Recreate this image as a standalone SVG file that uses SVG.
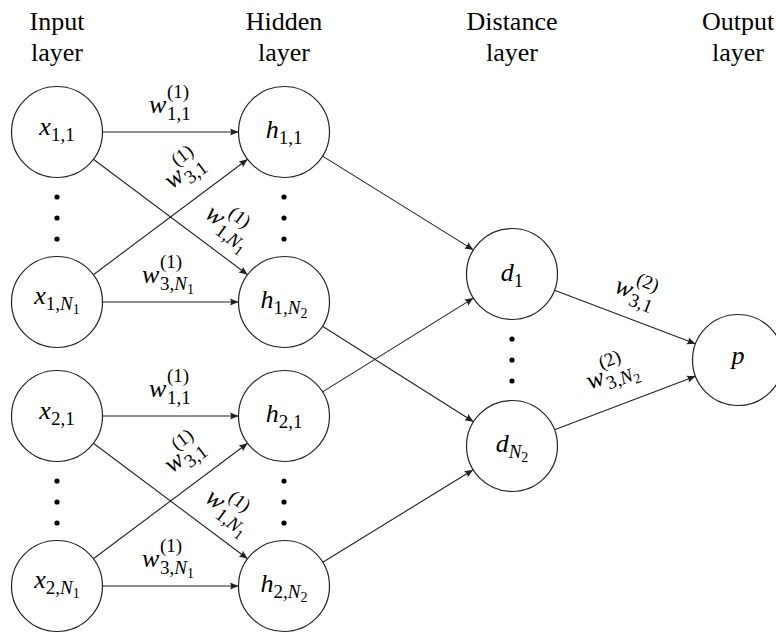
<svg xmlns="http://www.w3.org/2000/svg" width="776" height="633" viewBox="0 0 776 633" font-family="Liberation Serif, Times New Roman, serif">
  <style>
    .node { fill: #fff; stroke: #222; stroke-width: 1.2; }
    .edge { fill: none; stroke: #222; stroke-width: 1.1; marker-end: url(#arrow); }
    .dot { fill: #000; }
  </style>
  <defs>
    <marker id="arrow" markerUnits="userSpaceOnUse" markerWidth="12" markerHeight="10" viewBox="-10 -5 12 10" refX="0" refY="0" orient="auto">
      <path d="M0,0 L-8.5,-3.6 Q-6.5,0 -8.5,3.6 Z" fill="#222"/>
    </marker>
  </defs>
  <rect width="776" height="633" fill="#fff"/>

  <!-- layer headings -->
  <g id="headings" font-size="26" text-anchor="middle" font-family="Times New Roman, Liberation Serif, serif">
    <text x="57" y="30" font-family="Times New Roman, Liberation Serif, serif">Input</text>
    <text x="57" y="61" font-family="Times New Roman, Liberation Serif, serif">layer</text>
    <text x="284" y="30" font-family="Times New Roman, Liberation Serif, serif">Hidden</text>
    <text x="284" y="61" font-family="Times New Roman, Liberation Serif, serif">layer</text>
    <text x="512" y="30" font-family="Times New Roman, Liberation Serif, serif">Distance</text>
    <text x="512" y="61" font-family="Times New Roman, Liberation Serif, serif">layer</text>
    <text x="738" y="30" font-family="Times New Roman, Liberation Serif, serif">Output</text>
    <text x="738" y="61" font-family="Times New Roman, Liberation Serif, serif">layer</text>
  </g>

  <!-- connectors -->
  <g id="edges">
    <line class="edge" x1="102.5" y1="132" x2="238.5" y2="132"/>
    <line class="edge" x1="102.5" y1="302" x2="238.5" y2="302"/>
    <line class="edge" x1="93.4" y1="159.3" x2="247.6" y2="274.7"/>
    <line class="edge" x1="93.4" y1="274.7" x2="247.6" y2="159.3"/>
    <line class="edge" x1="102.5" y1="416" x2="238.5" y2="416"/>
    <line class="edge" x1="102.5" y1="586" x2="238.5" y2="586"/>
    <line class="edge" x1="93.4" y1="443.3" x2="247.6" y2="558.7"/>
    <line class="edge" x1="93.4" y1="558.7" x2="247.6" y2="443.3"/>
    <line class="edge" x1="322.6" y1="156.1" x2="473.4" y2="249.9"/>
    <line class="edge" x1="322.5" y1="326.3" x2="473.5" y2="421.7"/>
    <line class="edge" x1="322.6" y1="391.9" x2="473.4" y2="298.1"/>
    <line class="edge" x1="322.8" y1="562.2" x2="473.2" y2="469.8"/>
    <line class="edge" x1="554.5" y1="290.2" x2="695.5" y2="343.8"/>
    <line class="edge" x1="554.5" y1="429.8" x2="695.5" y2="376.2"/>
  </g>

  <!-- connector weights -->
  <g id="edge-labels" font-size="19" font-family="Times New Roman, Liberation Serif, serif">
    <g transform="translate(170,104)">
      <text x="-21" y="9" font-size="26" font-style="italic" font-family="Times New Roman, Liberation Serif, serif">w</text>
      <text x="-3" y="16" font-family="Times New Roman, Liberation Serif, serif">1,1</text>
      <text x="-3" y="-6" font-family="Times New Roman, Liberation Serif, serif">(1)</text>
    </g>
    <g transform="translate(183,170) rotate(-37)">
      <text x="-21" y="9" font-size="26" font-style="italic" font-family="Times New Roman, Liberation Serif, serif">w</text>
      <text x="-3" y="16" font-family="Times New Roman, Liberation Serif, serif">3,1</text>
      <text x="-3" y="-6" font-family="Times New Roman, Liberation Serif, serif">(1)</text>
    </g>
    <g transform="translate(230,225) rotate(37)">
      <text x="-26" y="9" font-size="26" font-style="italic" font-family="Times New Roman, Liberation Serif, serif">w</text>
      <text x="-8" y="16" font-family="Times New Roman, Liberation Serif, serif">1,<tspan font-style="italic">N</tspan><tspan font-size="14" dy="4">1</tspan></text>
      <text x="-8" y="-6" font-family="Times New Roman, Liberation Serif, serif">(1)</text>
    </g>
    <g transform="translate(168,274)">
      <text x="-26" y="9" font-size="26" font-style="italic" font-family="Times New Roman, Liberation Serif, serif">w</text>
      <text x="-8" y="16" font-family="Times New Roman, Liberation Serif, serif">3,<tspan font-style="italic">N</tspan><tspan font-size="14" dy="4">1</tspan></text>
      <text x="-8" y="-6" font-family="Times New Roman, Liberation Serif, serif">(1)</text>
    </g>
    <g transform="translate(170,388)">
      <text x="-21" y="9" font-size="26" font-style="italic" font-family="Times New Roman, Liberation Serif, serif">w</text>
      <text x="-3" y="16" font-family="Times New Roman, Liberation Serif, serif">1,1</text>
      <text x="-3" y="-6" font-family="Times New Roman, Liberation Serif, serif">(1)</text>
    </g>
    <g transform="translate(183,454) rotate(-37)">
      <text x="-21" y="9" font-size="26" font-style="italic" font-family="Times New Roman, Liberation Serif, serif">w</text>
      <text x="-3" y="16" font-family="Times New Roman, Liberation Serif, serif">3,1</text>
      <text x="-3" y="-6" font-family="Times New Roman, Liberation Serif, serif">(1)</text>
    </g>
    <g transform="translate(230,509) rotate(37)">
      <text x="-26" y="9" font-size="26" font-style="italic" font-family="Times New Roman, Liberation Serif, serif">w</text>
      <text x="-8" y="16" font-family="Times New Roman, Liberation Serif, serif">1,<tspan font-style="italic">N</tspan><tspan font-size="14" dy="4">1</tspan></text>
      <text x="-8" y="-6" font-family="Times New Roman, Liberation Serif, serif">(1)</text>
    </g>
    <g transform="translate(168,558)">
      <text x="-26" y="9" font-size="26" font-style="italic" font-family="Times New Roman, Liberation Serif, serif">w</text>
      <text x="-8" y="16" font-family="Times New Roman, Liberation Serif, serif">3,<tspan font-style="italic">N</tspan><tspan font-size="14" dy="4">1</tspan></text>
      <text x="-8" y="-6" font-family="Times New Roman, Liberation Serif, serif">(1)</text>
    </g>
    <g transform="translate(636,291) rotate(21)">
      <text x="-21" y="9" font-size="26" font-style="italic" font-family="Times New Roman, Liberation Serif, serif">w</text>
      <text x="-3" y="16" font-family="Times New Roman, Liberation Serif, serif">3,1</text>
      <text x="-3" y="-6" font-family="Times New Roman, Liberation Serif, serif">(2)</text>
    </g>
    <g transform="translate(611,372) rotate(-21)">
      <text x="-26" y="9" font-size="26" font-style="italic" font-family="Times New Roman, Liberation Serif, serif">w</text>
      <text x="-8" y="16" font-family="Times New Roman, Liberation Serif, serif">3,<tspan font-style="italic">N</tspan><tspan font-size="14" dy="4">2</tspan></text>
      <text x="-8" y="-6" font-family="Times New Roman, Liberation Serif, serif">(2)</text>
    </g>
  </g>

  <!-- node symbols: italic letter, upright index, italic N with its own small index -->
  <g id="nodes" font-size="26" text-anchor="middle" font-family="Times New Roman, Liberation Serif, serif">
    <g id="node-x11">
      <circle class="node" cx="57" cy="132" r="45.5"/>
      <text x="57" y="135" font-family="Times New Roman, Liberation Serif, serif"><tspan font-style="italic">x</tspan><tspan font-size="19" dy="6">1,1</tspan></text>
    </g>
    <g id="node-x1N1">
      <circle class="node" cx="57" cy="302" r="45.5"/>
      <text x="57" y="304" font-family="Times New Roman, Liberation Serif, serif"><tspan font-style="italic">x</tspan><tspan font-size="19" dy="6">1,</tspan><tspan font-size="19" font-style="italic">N</tspan><tspan font-size="14" dy="4">1</tspan></text>
    </g>
    <g id="node-x21">
      <circle class="node" cx="57" cy="416" r="45.5"/>
      <text x="57" y="419" font-family="Times New Roman, Liberation Serif, serif"><tspan font-style="italic">x</tspan><tspan font-size="19" dy="6">2,1</tspan></text>
    </g>
    <g id="node-x2N1">
      <circle class="node" cx="57" cy="586" r="45.5"/>
      <text x="57" y="588" font-family="Times New Roman, Liberation Serif, serif"><tspan font-style="italic">x</tspan><tspan font-size="19" dy="6">2,</tspan><tspan font-size="19" font-style="italic">N</tspan><tspan font-size="14" dy="4">1</tspan></text>
    </g>
    <g id="node-h11">
      <circle class="node" cx="284" cy="132" r="45.5"/>
      <text x="284" y="138" font-family="Times New Roman, Liberation Serif, serif"><tspan font-style="italic">h</tspan><tspan font-size="19" dy="6">1,1</tspan></text>
    </g>
    <g id="node-h1N2">
      <circle class="node" cx="284" cy="302" r="45.5"/>
      <text x="284" y="308" font-family="Times New Roman, Liberation Serif, serif"><tspan font-style="italic">h</tspan><tspan font-size="19" dy="6">1,</tspan><tspan font-size="19" font-style="italic">N</tspan><tspan font-size="14" dy="4">2</tspan></text>
    </g>
    <g id="node-h21">
      <circle class="node" cx="284" cy="416" r="45.5"/>
      <text x="284" y="422" font-family="Times New Roman, Liberation Serif, serif"><tspan font-style="italic">h</tspan><tspan font-size="19" dy="6">2,1</tspan></text>
    </g>
    <g id="node-h2N2">
      <circle class="node" cx="284" cy="586" r="45.5"/>
      <text x="284" y="592" font-family="Times New Roman, Liberation Serif, serif"><tspan font-style="italic">h</tspan><tspan font-size="19" dy="6">2,</tspan><tspan font-size="19" font-style="italic">N</tspan><tspan font-size="14" dy="4">2</tspan></text>
    </g>
    <g id="node-d1">
      <circle class="node" cx="512" cy="274" r="45.5"/>
      <text x="512" y="281" font-family="Times New Roman, Liberation Serif, serif"><tspan font-style="italic">d</tspan><tspan font-size="19" dy="6">1</tspan></text>
    </g>
    <g id="node-dN2">
      <circle class="node" cx="512" cy="446" r="45.5"/>
      <text x="512" y="452" font-family="Times New Roman, Liberation Serif, serif"><tspan font-style="italic">d</tspan><tspan font-size="19" font-style="italic" dy="6">N</tspan><tspan font-size="14" dy="4">2</tspan></text>
    </g>
    <g id="node-p">
      <circle class="node" cx="738" cy="360" r="45.5"/>
      <text x="738" y="364" font-style="italic" font-family="Times New Roman, Liberation Serif, serif">p</text>
    </g>
  </g>

  <!-- vertical ellipses between repeated nodes -->
  <g id="ellipses" class="dot">
    <circle cx="57" cy="197" r="2.6"/>
    <circle cx="57" cy="218" r="2.6"/>
    <circle cx="57" cy="239" r="2.6"/>
    <circle cx="284" cy="197" r="2.6"/>
    <circle cx="284" cy="218" r="2.6"/>
    <circle cx="284" cy="239" r="2.6"/>
    <circle cx="57" cy="481" r="2.6"/>
    <circle cx="57" cy="502" r="2.6"/>
    <circle cx="57" cy="523" r="2.6"/>
    <circle cx="284" cy="481" r="2.6"/>
    <circle cx="284" cy="502" r="2.6"/>
    <circle cx="284" cy="523" r="2.6"/>
    <circle cx="512" cy="339" r="2.6"/>
    <circle cx="512" cy="360" r="2.6"/>
    <circle cx="512" cy="381" r="2.6"/>
  </g>
</svg>
